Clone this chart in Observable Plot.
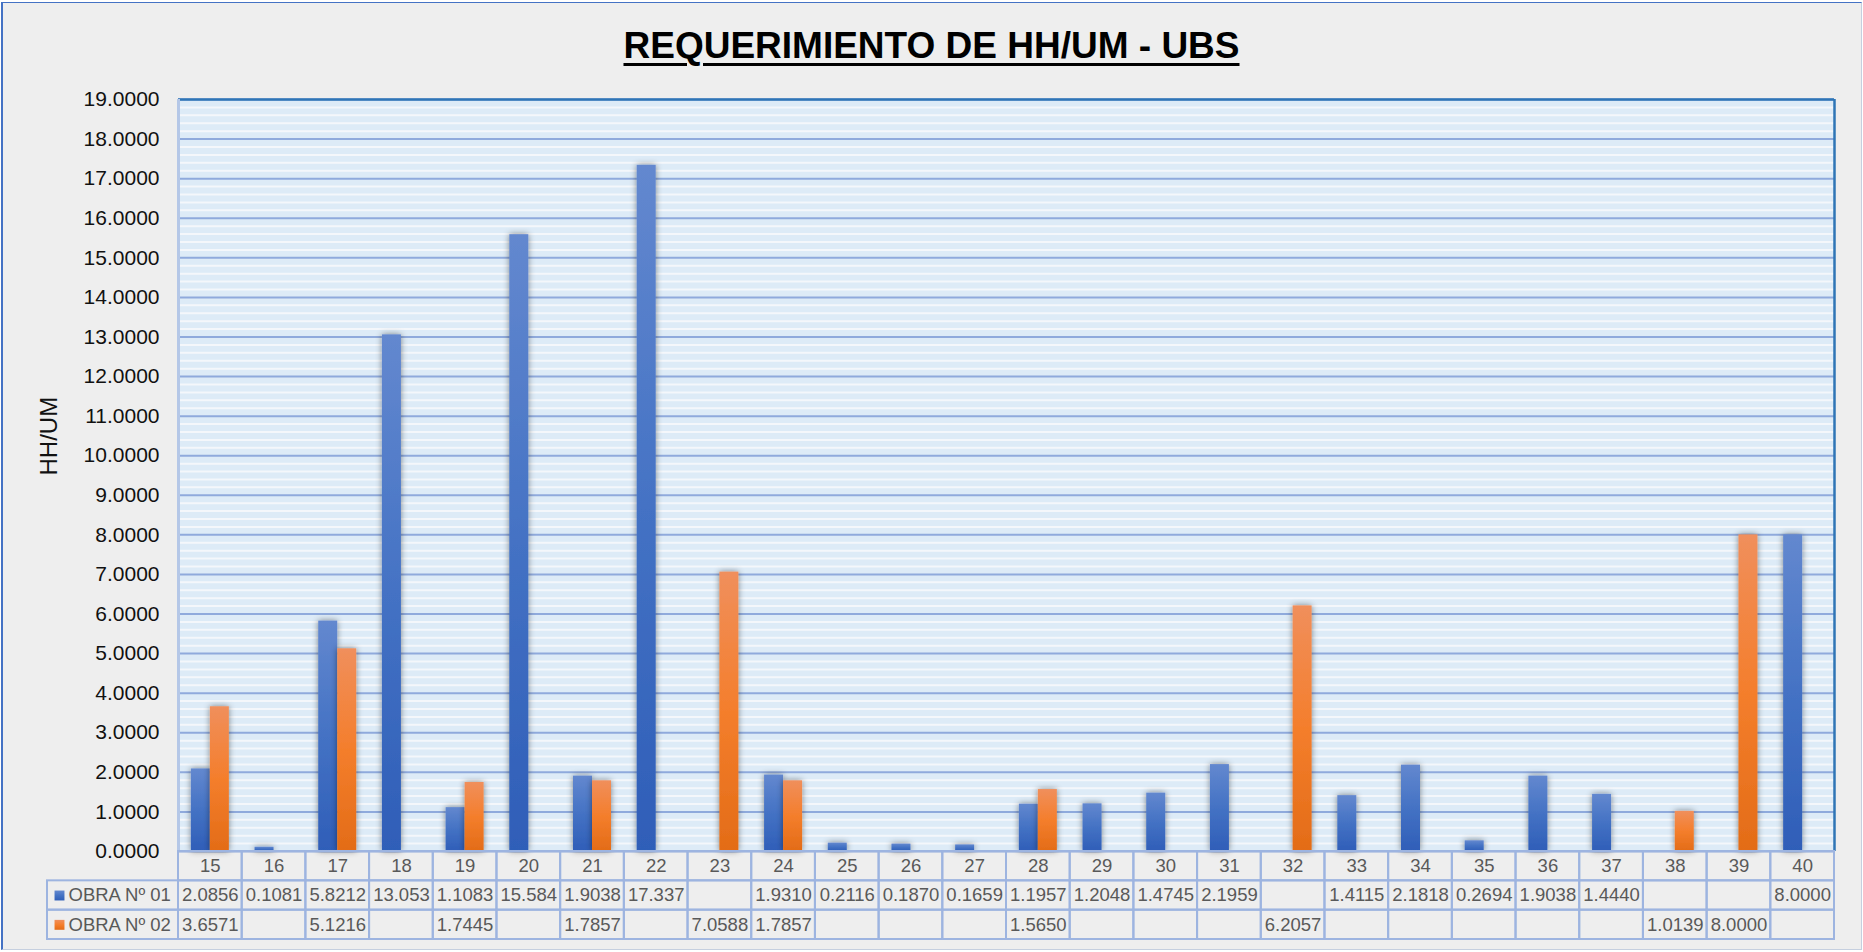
<!DOCTYPE html>
<html>
<head>
<meta charset="utf-8">
<script src="https://cdn.jsdelivr.net/npm/d3@7"></script>
<script src="https://cdn.jsdelivr.net/npm/@observablehq/plot@0.6"></script>
<style>
html, body { margin: 0; padding: 0; background: #ffffff; }
#chart { position: relative; width: 1863px; height: 952px; overflow: hidden; font-family: "Liberation Sans", Arial, sans-serif; }
#frame { position: absolute; left: 1px; top: 2px; width: 1858px; height: 946px; background: #EEEEEE;
  border-left: 2px solid #4472C4; border-top: 1px solid #4472C4; border-right: 1px solid #C5CFDF; border-bottom: 1px solid #C5CFDF; }
#title { position: absolute; left: 0; top: 27px; width: 1863px; text-align: center; font-size: 37px; line-height: 37px;
  font-weight: bold; color: #000; text-decoration: underline; text-decoration-thickness: 3px; text-underline-offset: 5px; }
.layer { position: absolute; left: 0; }
</style>
</head>
<body>
<svg width="0" height="0" style="position:absolute">
  <defs>
    <linearGradient id="gBlue" x1="0" y1="0" x2="0" y2="1">
      <stop offset="0" stop-color="#6388CF"/>
      <stop offset="0.5" stop-color="#4472C4"/>
      <stop offset="1" stop-color="#2F5EB8"/>
    </linearGradient>
    <linearGradient id="gOrange" x1="0" y1="0" x2="0" y2="1">
      <stop offset="0" stop-color="#F08F5C"/>
      <stop offset="0.5" stop-color="#F47E2C"/>
      <stop offset="1" stop-color="#E36C17"/>
    </linearGradient>
    <filter id="shadow" x="-5%" y="-5%" width="110%" height="110%">
      <feDropShadow dx="0" dy="0" stdDeviation="3" flood-color="#000" flood-opacity="0.45"/>
    </filter>
  </defs>
</svg>
<div id="chart">
  <div id="frame"></div>
  <div id="title">REQUERIMIENTO DE HH/UM - UBS</div>
</div>
<script>
// ---- data ----
const categories = ["15","16","17","18","19","20","21","22","23","24","25","26","27","28","29","30","31","32","33","34","35","36","37","38","39","40"];
const obra1 = [2.0856, 0.1081, 5.8212, 13.053, 1.1083, 15.584, 1.9038, 17.337, null, 1.9310, 0.2116, 0.1870, 0.1659, 1.1957, 1.2048, 1.4745, 2.1959, null, 1.4115, 2.1818, 0.2694, 1.9038, 1.4440, null, null, 8.0000];
const obra2 = [3.6571, null, 5.1216, null, 1.7445, null, 1.7857, null, 7.0588, 1.7857, null, null, null, 1.5650, null, null, null, 6.2057, null, null, null, null, null, 1.0139, 8.0000, null];
const seriesNames = ["OBRA Nº 01", "OBRA Nº 02"];
const yTicks = [0,1,2,3,4,5,6,7,8,9,10,11,12,13,14,15,16,17,18,19];
const yLabel = "HH/UM";

// ---- layout ----
const W = 1863, mL = 178, mR = 29;
const bw = (W - mL - mR) / categories.length;
const barW = 19;
const font = '"Liberation Sans", Arial, sans-serif';

const rows1 = categories.map((c, i) => ({cat: c, v: obra1[i]})).filter(d => d.v != null);
const rows2 = categories.map((c, i) => ({cat: c, v: obra2[i]})).filter(d => d.v != null);
const minor = d3.range(0, 19, 0.2).filter(v => Math.abs(v - Math.round(v)) > 1e-6);

const chart = Plot.plot({
  width: W, height: 786,
  marginTop: 19, marginBottom: 15, marginLeft: mL, marginRight: mR,
  style: {background: "transparent", fontFamily: font, fontSize: "21px", color: "#111", overflow: "visible"},
  x: {type: "band", domain: categories, padding: 0, round: false, axis: null},
  y: {domain: [0, 19], ticks: yTicks, tickFormat: d => d.toFixed(4), tickSize: 0, tickPadding: 19, label: null},
  marks: [
    Plot.frame({fill: "#DDEBF7", stroke: "none"}),
    Plot.ruleY(minor, {stroke: "#F4F7FB", strokeWidth: 2}),
    Plot.ruleY(yTicks, {stroke: "#8FAADC", strokeWidth: 2}),
    Plot.ruleY([19], {stroke: "#2E75B6", strokeWidth: 2.5}),
    Plot.ruleX([categories[categories.length - 1]], {dx: bw / 2, y1: 0, y2: 19, stroke: "#2E75B6", strokeWidth: 2.5}),
    Plot.ruleX([categories[0]], {dx: -bw / 2, y1: 0, y2: 19, stroke: "#B4C7E7", strokeWidth: 3}),
    Plot.barY(rows1, {x: "cat", y: "v", fill: "url(#gBlue)", insetLeft: bw / 2 - barW, insetRight: bw / 2}),
    Plot.barY(rows2, {x: "cat", y: "v", fill: "url(#gOrange)", insetLeft: bw / 2, insetRight: bw / 2 - barW}),
    Plot.text([yLabel], {frameAnchor: "left", dx: -129, rotate: -90, fontSize: 24, fill: "#111"})
  ]
});
chart.classList.add("layer");
chart.style.top = "80px";
d3.select(chart).selectAll('g[aria-label="bar"]').attr("filter", "url(#shadow)");
document.getElementById("chart").appendChild(chart);

// ---- data table ----
const fmt = v => v == null ? "" : (v >= 10 ? v.toFixed(3) : v.toFixed(4));
const rowKeys = ["cat", seriesNames[0], seriesNames[1]];
const cells = [];
categories.forEach((c, i) => {
  cells.push({cat: c, row: "cat", label: c});
  cells.push({cat: c, row: seriesNames[0], label: fmt(obra1[i])});
  cells.push({cat: c, row: seriesNames[1], label: fmt(obra2[i])});
});
const legendRows = seriesNames.map(n => ({row: n}));

const table = Plot.plot({
  width: W, height: 90,
  marginTop: 1, marginBottom: 1, marginLeft: 47, marginRight: mR,
  style: {background: "transparent", fontFamily: font, fontSize: "18px", color: "#595959", overflow: "visible"},
  x: {type: "band", domain: categories, padding: 0, round: false, range: [mL, W - mR], axis: null},
  y: {type: "band", domain: rowKeys, padding: 0, round: false, axis: null},
  marks: [
    Plot.cell(cells, {x: "cat", y: "row", fill: "none", stroke: "#9DB4E0", strokeWidth: 2, inset: 0}),
    Plot.cell(legendRows, {y: "row", fill: "none", stroke: "#9DB4E0", strokeWidth: 2, inset: 0, insetRight: W - mR - mL}),
    Plot.text(cells, {x: "cat", y: "row", text: "label", fill: "#595959", fontSize: 18.5}),
    Plot.dot([legendRows[0]], {y: "row", frameAnchor: "left", dx: 12, symbol: "square", r: 5.6, fill: "url(#gBlue)", stroke: "none"}),
    Plot.dot([legendRows[1]], {y: "row", frameAnchor: "left", dx: 12, symbol: "square", r: 5.6, fill: "url(#gOrange)", stroke: "none"}),
    Plot.text(legendRows, {y: "row", text: "row", frameAnchor: "left", dx: 21, textAnchor: "start", fill: "#595959", fontSize: 18.5})
  ]
});
table.classList.add("layer");
table.style.top = "850px";
document.getElementById("chart").appendChild(table);
</script>
</body>
</html>
